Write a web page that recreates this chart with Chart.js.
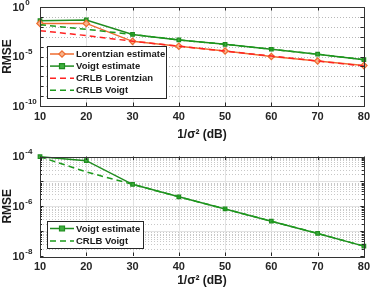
<!DOCTYPE html>
<html><head><meta charset="utf-8">
<script src="https://cdn.jsdelivr.net/npm/chart.js@4/dist/chart.umd.min.js"></script>
<style>
html,body{margin:0;padding:0;background:#fff;}
#wrap{position:relative;width:374px;height:292px;overflow:hidden;}
canvas{position:absolute;left:0;}
</style></head><body>
<div id="wrap">
<canvas id="c1" width="374" height="146" style="top:0"></canvas>
<canvas id="c2" width="374" height="146" style="top:146px"></canvas>
</div>
<script>
// ---- data ----
const snr = [10, 20, 30, 40, 50, 60, 70, 80];
const xTickValues = [10, 20, 30, 40, 50, 60, 70, 80];

// top panel
const lorentzEst  = [2.2e-2, 2.2e-2, 3.4e-4, 1.1e-4, 3.6e-5, 1.0e-5, 3.5e-6, 1.2e-6];
const voigtEst    = [4.2e-2, 4.9e-2, 1.7e-3, 4.7e-4, 1.7e-4, 5.4e-5, 1.7e-5, 4.8e-6];
const crlbLorentz = [4.1e-3, 1.3e-3, 3.5e-4, 1.1e-4, 3.5e-5, 1.1e-5, 3.5e-6, 1.1e-6];
const crlbVoigt   = [1.6e-2, 5.6e-3, 1.7e-3, 4.7e-4, 1.7e-4, 5.4e-5, 1.7e-5, 4.8e-6];
const topYExpLabels = [0, -5, -10];

// bottom panel
const voigtEst2  = [9.8e-5, 6.8e-5, 7.6e-6, 2.4e-6, 7.8e-7, 2.5e-7, 8.1e-8, 2.5e-8];
const crlbVoigt2 = [9.8e-5, 2.4e-5, 7.6e-6, 2.4e-6, 7.8e-7, 2.5e-7, 8.1e-8, 2.5e-8];
const botYExpLabels = [-4, -6, -8];

const xTitle = '1/σ² (dB)';
const yTitle = 'RMSE';

// ---- styles ----
const C_LOR = '#ee6c30', C_LOR_FILL = '#f8b48c';
const C_VOI = '#1f8c1f', C_VOI_FILL = '#3fae3f';
const C_CRL = '#ff2222', C_CRV = '#1d9a1d';
const FONT = '"Liberation Sans", Arial, sans-serif';

function lineDs(label, data, color, dashed, marker, fill, order) {
  return {
    label, data, borderColor: color, backgroundColor: fill || color,
    borderWidth: 1.5, borderDash: dashed ? [6, 4] : [],
    pointStyle: marker || false, pointRadius: marker ? (marker === 'rectRot' ? 3.2 : 2.5) : 0,
    pointBorderColor: color, pointBackgroundColor: fill || color, pointBorderWidth: 1.2,
    tension: 0, clip: false, order
  };
}

function drawLine(ctx, x1, y1, x2, y2) { ctx.beginPath(); ctx.moveTo(x1, y1); ctx.lineTo(x2, y2); ctx.stroke(); }

function axesPlugin(cfg) {
  return {
    id: 'matlabAxes',
    beforeDatasetsDraw(chart) {
      const { ctx, chartArea: a, scales: { x, y } } = chart;
      ctx.save();
      ctx.lineWidth = 1;
      ctx.strokeStyle = '#e2e2e2'; ctx.setLineDash([]);
      xTickValues.forEach(v => {
        if (v === x.min || v === x.max) return;
        const px = Math.round(x.getPixelForValue(v)) + 0.5;
        drawLine(ctx, px, a.top, px, a.bottom);
      });
      for (let e = cfg.eMin; e < cfg.eMax; e++) {
        if (cfg.minor) {
          ctx.strokeStyle = '#c8c8c8'; ctx.setLineDash([1, 2]);
          for (let m = 2; m <= 9; m++) {
            const py = Math.round(y.getPixelForValue(m * Math.pow(10, e))) + 0.5;
            drawLine(ctx, a.left, py, a.right, py);
          }
        }
        if (e > cfg.eMin) {
          const py = Math.round(y.getPixelForValue(Math.pow(10, e))) + 0.5;
          if (cfg.minor) { ctx.strokeStyle = '#e2e2e2'; ctx.setLineDash([]); }
          else { ctx.strokeStyle = '#b8b8b8'; ctx.setLineDash([1, 2]); }
          drawLine(ctx, a.left, py, a.right, py);
        }
      }
      ctx.restore();
    },
    afterDatasetsDraw(chart) {
      const { ctx, chartArea: a, scales: { x, y } } = chart;
      ctx.save();
      ctx.strokeStyle = '#262626'; ctx.lineWidth = 1; ctx.setLineDash([]);
      xTickValues.forEach(v => {
        const px = Math.round(x.getPixelForValue(v)) + 0.5;
        drawLine(ctx, px, a.bottom, px, a.bottom - 3.5);
        drawLine(ctx, px, a.top, px, a.top + 3.5);
      });
      for (let e = cfg.eMin; e <= cfg.eMax; e++) {
        const py = Math.round(y.getPixelForValue(Math.pow(10, e))) + 0.5;
        drawLine(ctx, a.left, py, a.left + 3.5, py);
        drawLine(ctx, a.right, py, a.right - 3.5, py);
        if (cfg.minor && e < cfg.eMax) {
          for (let m = 2; m <= 9; m++) {
            const pm = Math.round(y.getPixelForValue(m * Math.pow(10, e))) + 0.5;
            drawLine(ctx, a.left, pm, a.left + 2, pm);
            drawLine(ctx, a.right, pm, a.right - 2, pm);
          }
        }
      }
      ctx.strokeStyle = '#333';
      ctx.strokeRect(Math.round(a.left) + 0.5, Math.round(a.top) + 0.5,
                     Math.round(a.right - a.left), Math.round(a.bottom - a.top));
      ctx.fillStyle = '#262626'; ctx.textBaseline = 'middle'; ctx.textAlign = 'left';
      cfg.labels.forEach(e => {
        const py = y.getPixelForValue(Math.pow(10, e));
        ctx.font = 'bold 11px ' + FONT;
        ctx.fillText('10', 12.5, py + 0.5);
        const w = ctx.measureText('10').width;
        ctx.font = 'bold 8px ' + FONT;
        ctx.fillText(String(e), 12.5 + w + 0.5, py - 4.5);
      });
      ctx.restore();
    },
    afterDraw(chart) {
      const { ctx } = chart;
      const L = cfg.legend;
      ctx.save();
      ctx.fillStyle = '#fff'; ctx.strokeStyle = '#262626'; ctx.lineWidth = 1;
      ctx.fillRect(L.x, L.y, L.w, L.h);
      ctx.strokeRect(L.x + 0.5, L.y + 0.5, L.w, L.h);
      ctx.font = 'bold 9.5px ' + FONT; ctx.textBaseline = 'middle'; ctx.textAlign = 'left';
      L.items.forEach((dsIndex, i) => {
        const ds = chart.data.datasets[dsIndex];
        const cy = L.y + L.first + i * L.step;
        ctx.strokeStyle = ds.borderColor; ctx.lineWidth = 1.5;
        ctx.setLineDash(ds.borderDash || []);
        drawLine(ctx, L.x + 3, cy, L.x + 27, cy);
        ctx.setLineDash([]);
        if (ds.pointStyle) {
          ctx.fillStyle = ds.pointBackgroundColor; ctx.strokeStyle = ds.pointBorderColor;
          ctx.lineWidth = ds.pointBorderWidth;
          const r = ds.pointRadius;
          ctx.beginPath();
          if (ds.pointStyle === 'rect') {
            ctx.rect(L.x + 15 - r, cy - r, 2 * r, 2 * r);
          } else {
            ctx.moveTo(L.x + 15, cy - r); ctx.lineTo(L.x + 15 + r, cy);
            ctx.lineTo(L.x + 15, cy + r); ctx.lineTo(L.x + 15 - r, cy); ctx.closePath();
          }
          ctx.fill(); ctx.stroke();
        }
        ctx.fillStyle = '#1a1a1a';
        ctx.fillText(ds.label, L.x + 29, cy + 0.5);
      });
      ctx.restore();
    }
  };
}

function makeChart(id, datasets, yMin, yMax, padTop, xHeight, cfg) {
  return new Chart(document.getElementById(id), {
    type: 'line',
    data: { datasets },
    options: {
      responsive: false, animation: false, devicePixelRatio: 1,
      layout: { padding: { top: padTop, right: 7, left: 0, bottom: 0 } },
      plugins: { legend: { display: false }, tooltip: { enabled: false } },
      scales: {
        x: {
          type: 'linear', min: 10, max: 80,
          afterFit: s => { s.height = xHeight; },
          afterBuildTicks: s => { s.ticks = xTickValues.map(v => ({ value: v })); },
          grid: { display: false, drawTicks: false }, border: { display: false },
          ticks: { padding: 4, color: '#262626', font: { family: FONT, size: 11, weight: 'bold' }, maxRotation: 0 },
          title: { display: true, text: xTitle, color: '#1a1a1a', padding: { top: 4, bottom: 4 },
                   font: { family: FONT, size: 12, weight: 'bold' } }
        },
        y: {
          type: 'logarithmic', min: yMin, max: yMax,
          afterFit: s => { s.width = 40; },
          grid: { display: false }, border: { display: false },
          ticks: { display: false },
          title: { display: true, text: yTitle, color: '#1a1a1a', padding: { top: 0, bottom: 0 },
                   font: { family: FONT, size: 12, weight: 'bold' } }
        }
      }
    },
    plugins: [axesPlugin(cfg)]
  });
}

const pts = arr => snr.map((v, i) => ({ x: v, y: arr[i] }));

makeChart('c1', [
  lineDs('Lorentzian estimate', pts(lorentzEst), C_LOR, false, 'rectRot', C_LOR_FILL, 2),
  lineDs('Voigt estimate', pts(voigtEst), C_VOI, false, 'rect', C_VOI_FILL, 2),
  lineDs('CRLB Lorentzian', pts(crlbLorentz), C_CRL, true, null, null, 1),
  lineDs('CRLB Voigt', pts(crlbVoigt), C_CRV, true, null, null, 1)
], 1e-10, 1, 7, 40, {
  eMin: -10, eMax: 0, minor: false, labels: topYExpLabels,
  legend: { x: 47, y: 46, w: 119, h: 52, first: 8, step: 12.1, items: [0, 1, 2, 3] }
});

makeChart('c2', [
  lineDs('Voigt estimate', pts(voigtEst2), C_VOI, false, 'rect', C_VOI_FILL, 2),
  lineDs('CRLB Voigt', pts(crlbVoigt2), C_CRV, true, null, null, 1)
], 1e-8, 1e-4, 10.5, 36, {
  eMin: -8, eMax: -4, minor: true, labels: botYExpLabels,
  legend: { x: 47, y: 75, w: 96, h: 27, first: 7.5, step: 12.5, items: [0, 1] }
});
</script>
</body></html>
